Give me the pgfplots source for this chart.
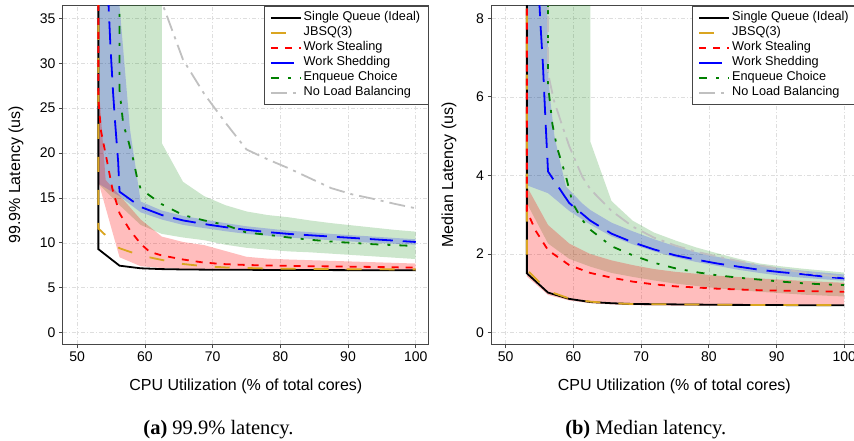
\documentclass[border=0pt]{standalone}
\usepackage{fontspec}
\setmainfont{Liberation Sans}
\newfontfamily\capfont{Liberation Serif}
\usepackage{pgfplots}
\pgfplotsset{compat=1.18}
\definecolor{jbsq}{RGB}{218,165,32}
\definecolor{ecg}{RGB}{0,128,0}
\definecolor{nlb}{RGB}{192,192,192}
\definecolor{frame}{RGB}{70,70,70}

\pgfplotsset{
 mystyle/.style={
  scale only axis, width=365.6pt, height=338.3pt,
  xmin=47.9, xmax=101.9,
  xtick={50,60,...,100},
  tick align=outside, tick pos=left,
  major tick length=4pt,
  every tick/.style={frame, line width=0.8pt},
  axis line style={frame, line width=1pt},
  grid=major,
  major grid style={black!13, line width=0.6pt, dash pattern=on 4pt off 2pt on 1pt off 2pt},
  /pgf/number format/assume math mode=true,
  ticklabel style={font=\fontsize{14}{16}\selectfont},
  label style={font=\fontsize{16}{19}\selectfont},
  xlabel={CPU Utilization (\% of total cores)},
  xlabel style={at={(axis description cs:0.5,-0.124)}, anchor=center},
  legend style={at={(1,1)}, anchor=north east, draw=frame, line width=0.8pt,
    font=\fontsize{12.7}{14}\selectfont, inner xsep=6pt, inner ysep=4pt,
    nodes={inner ysep=1.6pt, text height=9.2pt, text depth=2.6pt},
    /tikz/every even column/.append style={column sep=6pt}},
  legend cell align=left,
  legend image code/.code={\draw[#1] (0pt,0pt) -- (30pt,0pt);},
 },
}

\begin{document}
\begin{tikzpicture}
\path[use as bounding box] (0,0) rectangle (854pt,440pt);

% ---------------- (a) 99.9% latency ----------------
\begin{axis}[mystyle, at={(63pt,96pt)}, anchor=south west,
  ymin=-1.26, ymax=36.41, ytick={0,5,...,35},
  ylabel={99.9\% Latency (us)},
  ylabel style={at={(axis description cs:-0.1286,0.5)}, anchor=center}]
% bands
\addplot[fill=ecg, fill opacity=0.2, draw=none, forget plot] coordinates {
 (53.125,40) (62.5,40) (62.5,21.1) (65.625,16.8) (68.75,15.2) (71.875,14.2) (75,13.5)
 (78.125,13.1) (81.25,12.85) (84.375,12.5) (87.5,12.2) (90.625,11.95) (93.75,11.7) (96.875,11.45) (100,11.25)
 (100,8.2) (96.875,8.35) (93.75,8.5) (90.625,8.65) (87.5,8.8) (84.375,8.95) (81.25,9.05) (78.125,9.25)
 (75,9.45) (71.875,9.8) (68.75,10.3) (65.625,10.6) (62.5,11.0) (59.375,12.0) (56.25,14.2) (53.125,16.6)};
\addplot[fill=blue, fill opacity=0.2, draw=none, forget plot] coordinates {
 (53.125,40) (56.0,40) (56.25,36.4) (57.8,22.6) (59.375,14.6) (62.5,13.6) (65.625,13.0) (68.75,12.6)
 (71.875,12.2) (75,11.85) (78.125,11.6) (81.25,11.35) (84.375,11.2) (87.5,11.0) (90.625,10.85)
 (93.75,10.7) (96.875,10.55) (100,10.4)
 (100,9.8) (96.875,9.9) (93.75,10.0) (90.625,10.15) (87.5,10.3) (84.375,10.45) (81.25,10.6) (78.125,10.8)
 (75,11.0) (71.875,11.3) (68.75,11.65) (65.625,12.0) (62.5,12.6) (59.375,13.4) (56.25,15.2) (53.125,16.6)};
\addplot[fill=red, fill opacity=0.26, draw=none, forget plot] coordinates {
 (53.125,28) (54.2,17.0) (56.25,15.3) (59.375,12.6) (62.5,10.7) (65.625,10.1) (68.75,9.75) (71.875,9.1)
 (75,8.45) (78.125,8.25) (81.25,8.15) (87.5,8.0) (93.75,7.85) (100,7.7)
 (100,6.9) (87.5,6.95) (75,7.0) (68.75,7.05) (65.625,7.1) (62.5,7.2) (59.375,7.4) (56.25,8.4) (53.125,16.8)};
% lines
\addplot[black, solid, line width=1.8pt] coordinates {
 (53.125,60) (53.125,9.3) (56.25,7.46) (59.375,7.17) (62.5,7.08) (65.625,7.04) (68.75,7.02) (71.875,7.0)
 (75,7.0) (78.125,6.99) (81.25,6.98) (84.375,6.97) (87.5,6.97) (90.625,6.96) (93.75,6.96) (96.875,6.95) (100,6.95)};
\addlegendentry{Single Queue (Ideal)}
\addplot[jbsq, dash pattern=on 15pt off 18pt, line width=1.8pt] coordinates {
 (53.125,60) (53.125,11.6) (56.25,9.4) (59.375,8.6) (62.5,8.1) (65.625,7.65) (68.75,7.4) (71.875,7.27)
 (75,7.2) (78.125,7.15) (81.25,7.12) (84.375,7.1) (87.5,7.08) (90.625,7.07) (93.75,7.06) (96.875,7.05) (100,7.05)};
\addlegendentry{JBSQ(3)}
\addplot[red, dash pattern=on 7pt off 7pt, line width=1.8pt] coordinates {
 (53.125,60) (53.125,26) (53.5,22.5) (54.3,19.5) (55.2,16) (56.25,13.3) (57.8,11.4) (59.375,9.9) (60.7,9.0)
 (62.5,8.6) (65.625,8.15) (68.75,7.8) (71.875,7.63) (75,7.54) (78.125,7.48) (81.25,7.44) (84.375,7.4)
 (87.5,7.38) (90.625,7.35) (93.75,7.32) (96.875,7.28) (100,7.25)};
\addlegendentry{Work Stealing}
\addplot[blue, dash pattern=on 23pt off 10pt, line width=1.8pt] coordinates {
 (54.4,42) (54.6,37) (54.9,32) (55.3,26.7) (55.6,23.4) (56.05,19) (56.25,15.7) (59.375,14.0) (62.5,13.1)
 (65.625,12.5) (68.75,12.1) (71.875,11.75) (75,11.45) (78.125,11.2) (81.25,11.0) (84.375,10.85)
 (87.5,10.7) (90.625,10.55) (93.75,10.4) (96.875,10.25) (100,10.1)};
\addlegendentry{Work Shedding}
\addplot[ecg, dash pattern=on 8pt off 9pt on 3pt off 9pt, line width=1.8pt] coordinates {
 (56.25,60) (56.25,27) (56.8,23.2) (57.5,21.5) (58.3,19.2) (58.8,17.4) (59.375,16.0) (61.2,15.0) (62.5,14.3)
 (65.625,13.1) (68.75,12.5) (71.875,12.0) (75,11.15) (78.125,10.9) (81.25,10.6) (84.375,10.35) (87.5,10.15)
 (90.625,10.0) (93.75,9.85) (96.875,9.75) (100,9.65)};
\addlegendentry{Enqueue Choice}
\addplot[nlb, dash pattern=on 16pt off 6pt on 3pt off 6pt, line width=1.8pt] coordinates {
 (59.375,80) (62.5,36.8) (65.625,30.4) (68.75,26.6) (71.875,23.4) (75,20.4) (78.125,19.3) (81.25,18.3)
 (84.375,17.2) (87.5,16.1) (90.625,15.4) (93.75,14.9) (96.875,14.35) (100,13.85)};
\addlegendentry{No Load Balancing}
\end{axis}

% ---------------- (b) Median latency ----------------
\begin{axis}[mystyle, at={(491.5pt,96pt)}, anchor=south west,
  ymin=-0.288, ymax=8.32, ytick={0,2,...,8},
  ylabel={Median Latency (us)},
  ylabel style={at={(axis description cs:-0.116,0.5)}, anchor=center}]
\addplot[fill=ecg, fill opacity=0.2, draw=none, forget plot] coordinates {
 (53.125,9) (62.5,9) (62.5,4.86) (65.625,3.35) (68.75,2.85) (71.875,2.55) (75,2.35) (78.125,2.17)
 (81.25,2.02) (84.375,1.88) (87.5,1.76) (90.625,1.69) (93.75,1.63) (96.875,1.58) (100,1.53)
 (100,0.92) (93.75,0.97) (87.5,1.04) (81.25,1.13) (75,1.25) (71.875,1.33) (68.75,1.42) (65.625,1.52)
 (62.5,1.68) (59.375,1.88) (56.25,2.27) (53.125,3.29)};
\addplot[fill=blue, fill opacity=0.2, draw=none, forget plot] coordinates {
 (53.125,9) (56.0,9) (56.1,8.4) (56.3,6.5) (56.6,5.9) (57.2,5.0) (57.9,4.45) (58.9,3.72) (61.3,3.29)
 (62.5,3.12) (65.625,2.8) (68.75,2.58) (71.875,2.38) (75,2.2) (78.125,2.05) (81.25,1.93) (84.375,1.82)
 (87.5,1.72) (90.625,1.64) (93.75,1.58) (96.875,1.53) (100,1.48)
 (100,1.32) (96.875,1.36) (93.75,1.4) (90.625,1.45) (87.5,1.52) (84.375,1.6) (81.25,1.7) (78.125,1.8)
 (75,1.92) (71.875,2.07) (68.75,2.25) (65.625,2.45) (62.5,2.75) (59.375,3.1) (56.25,3.55) (53.125,3.75)};
\addplot[fill=red, fill opacity=0.26, draw=none, forget plot] coordinates {
 (53.125,3.72) (56.25,2.74) (59.375,2.27) (62.5,2.0) (65.625,1.84) (68.75,1.72) (71.875,1.62) (75,1.55)
 (81.25,1.45) (87.5,1.38) (93.75,1.32) (100,1.27)
 (100,0.68) (75,0.69) (68.75,0.70) (65.625,0.72) (62.5,0.75) (59.375,0.82) (56.25,0.96) (53.125,1.43)};
\addplot[black, solid, line width=1.8pt] coordinates {
 (53.125,20) (53.125,1.51) (56.25,1.02) (59.375,0.86) (62.5,0.78) (65.625,0.75) (68.75,0.73) (71.875,0.725)
 (75,0.72) (81.25,0.71) (87.5,0.705) (93.75,0.70) (100,0.70)};
\addlegendentry{Single Queue (Ideal)}
\addplot[jbsq, dash pattern=on 15pt off 18pt, line width=1.8pt] coordinates {
 (53.125,20) (53.125,1.6) (56.25,1.06) (59.375,0.87) (62.5,0.79) (65.625,0.75) (68.75,0.73) (75,0.72)
 (87.5,0.705) (100,0.70)};
\addlegendentry{JBSQ(3)}
\addplot[red, dash pattern=on 7pt off 7pt, line width=1.8pt] coordinates {
 (53.125,20) (53.125,3.1) (54.4,2.6) (56.25,2.1) (59.375,1.72) (62.5,1.52) (65.625,1.40) (68.75,1.30)
 (71.875,1.23) (75,1.18) (78.125,1.15) (81.25,1.12) (84.375,1.10) (87.5,1.08) (90.625,1.07) (93.75,1.06)
 (96.875,1.05) (100,1.04)};
\addlegendentry{Work Stealing}
\addplot[blue, dash pattern=on 23pt off 10pt, line width=1.8pt] coordinates {
 (54.7,12) (55.0,8.3) (55.15,7.8) (55.5,6.8) (55.9,5.3) (56.25,4.1) (59.375,3.3) (62.5,2.85) (65.625,2.52)
 (68.75,2.3) (71.875,2.12) (75,1.97) (78.125,1.86) (81.25,1.76) (84.375,1.68) (87.5,1.60) (90.625,1.54)
 (93.75,1.49) (96.875,1.43) (100,1.38)};
\addlegendentry{Work Shedding}
\addplot[ecg, dash pattern=on 8pt off 9pt on 3pt off 9pt, line width=1.8pt] coordinates {
 (56.25,12) (56.25,6.3) (56.9,5.3) (57.6,4.7) (58.9,3.97) (59.9,3.29) (61.3,2.87) (62.5,2.62) (65.625,2.2)
 (68.75,1.97) (71.875,1.78) (75,1.64) (78.125,1.54) (81.25,1.46) (84.375,1.40) (87.5,1.35) (90.625,1.30)
 (93.75,1.26) (96.875,1.23) (100,1.21)};
\addlegendentry{Enqueue Choice}
\addplot[nlb, dash pattern=on 16pt off 6pt on 3pt off 6pt, line width=1.8pt] coordinates {
 (56.25,12) (56.25,6.6) (57.1,5.92) (58.4,5.24) (59.375,4.75) (61.3,3.97) (62.5,3.65) (65.625,3.1)
 (68.75,2.7) (71.875,2.42) (75,2.22) (78.125,2.06) (81.25,1.94) (84.375,1.82) (87.5,1.71) (90.625,1.62)
 (93.75,1.54) (96.875,1.47) (100,1.41)};
\addlegendentry{No Load Balancing}
\end{axis}

\node[font=\capfont\fontsize{20.5}{24}\selectfont, anchor=base] at (218.5pt,5.5pt) {\textbf{(a)} 99.9\% latency.};
\node[font=\capfont\fontsize{20.5}{24}\selectfont, anchor=base] at (645.7pt,5.5pt) {\textbf{(b)} Median latency.};
\end{tikzpicture}
\end{document}
